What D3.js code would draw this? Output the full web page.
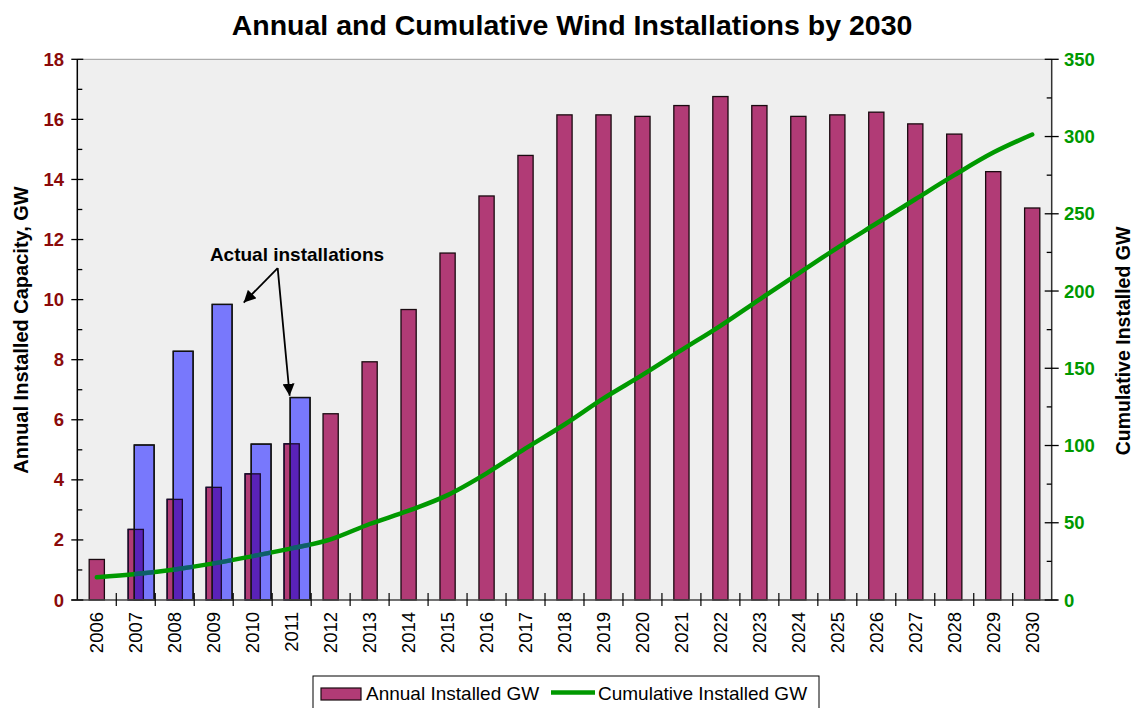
<!DOCTYPE html>
<html><head><meta charset="utf-8">
<script src="https://cdn.jsdelivr.net/npm/d3@7"></script>
<style>
html,body{margin:0;padding:0;background:#fff;}
svg{display:block;font-family:"Liberation Sans",Arial,sans-serif;}
</style></head>
<body><svg id="c" width="1133" height="708"></svg>
<script>
const years = ["2006","2007","2008","2009","2010","2011","2012","2013","2014","2015","2016","2017","2018","2019","2020","2021","2022","2023","2024","2025","2026","2027","2028","2029","2030"];
const annualGW = [1.35,2.35,3.35,3.75,4.2,5.2,6.2,7.93,9.67,11.55,13.45,14.8,16.15,16.15,16.1,16.46,16.76,16.46,16.1,16.15,16.24,15.85,15.51,14.26,13.05];
const cumulativeGW = [14.7,16.8,19.8,23.7,28.4,33.4,39.3,49.2,57.8,67.9,82,98.1,113.6,130.5,145.7,161.7,177.5,194.5,211.3,228,243.7,259.4,275,289.6,301.3];
const actualYears = ["2007","2008","2009","2010","2011"];
const actualGW = [5.16,8.28,9.84,5.19,6.74];
const leftTicks = [0,2,4,6,8,10,12,14,16,18];
const rightTicks = [0,50,100,150,200,250,300,350];

const svg = d3.select("#c");
const defs = svg.append("defs");
const L = 77.3, R = 1051.7, T = 59.3, B = 600;
const x = d3.scaleBand().domain(years).range([L, R]);
const yL = d3.scaleLinear().domain([0, 18]).range([B, T]);
const yR = d3.scaleLinear().domain([0, 350]).range([B, T]);
const bw = x.bandwidth();
const magW = bw * 0.39;
const blueW = bw * 0.51;

// plot background
svg.append("rect").attr("x", L).attr("y", T).attr("width", R - L).attr("height", B - T).attr("fill", "#efefef");
svg.append("line").attr("x1", L).attr("x2", R).attr("y1", T).attr("y2", T).attr("stroke", "#999").attr("stroke-width", 1);

// title
svg.append("text").attr("x", 572).attr("y", 35).attr("text-anchor", "middle")
  .attr("font-size", 28.5).attr("font-weight", "bold").text("Annual and Cumulative Wind Installations by 2030");

// magenta bars
const magX = d => x(d) + bw / 2 - magW / 2;
svg.append("g").selectAll("rect").data(years).join("rect")
  .attr("x", d => magX(d)).attr("width", magW)
  .attr("y", (d, i) => yL(annualGW[i])).attr("height", (d, i) => B - yL(annualGW[i]))
  .attr("fill", "#b13b76").attr("stroke", "#1a0a10").attr("stroke-width", 1.3);

// blue actual bars
const blueX = d => x(d) + bw / 2 - 1.5;
svg.append("g").selectAll("rect").data(actualYears).join("rect")
  .attr("x", d => blueX(d)).attr("width", blueW)
  .attr("y", (d, i) => yL(actualGW[i])).attr("height", (d, i) => B - yL(actualGW[i]))
  .attr("fill", "#7878fc").attr("stroke", "#111").attr("stroke-width", 1.3);

// overlap regions
const overlap = actualYears.map((d, i) => {
  const j = years.indexOf(d);
  return {d, v: Math.min(annualGW[j], actualGW[i]), x0: blueX(d), x1: magX(d) + magW};
});
svg.append("g").selectAll("rect").data(overlap).join("rect")
  .attr("x", o => o.x0).attr("width", o => o.x1 - o.x0)
  .attr("y", o => yL(o.v)).attr("height", o => B - yL(o.v))
  .attr("fill", "#5a22b8");
// re-stroke outlines
svg.append("g").selectAll("rect").data(actualYears).join("rect")
  .attr("x", d => magX(d)).attr("width", magW)
  .attr("y", d => yL(annualGW[years.indexOf(d)])).attr("height", d => B - yL(annualGW[years.indexOf(d)]))
  .attr("fill", "none").attr("stroke", "#1a0a30").attr("stroke-width", 1.3);
svg.append("g").selectAll("rect").data(actualYears).join("rect")
  .attr("x", d => blueX(d)).attr("width", blueW)
  .attr("y", (d, i) => yL(actualGW[i])).attr("height", (d, i) => B - yL(actualGW[i]))
  .attr("fill", "none").attr("stroke", "#111").attr("stroke-width", 1.3);

// cumulative line
const line = d3.line().x((d, i) => x(years[i]) + bw / 2).y(d => yR(d)).curve(d3.curveMonotoneX);
svg.append("path").datum(cumulativeGW).attr("d", line).attr("fill", "none")
  .attr("stroke", "#009900").attr("stroke-width", 4.5).attr("stroke-linecap", "round");
// line segment under blue bars appears darker
const mask = defs.append("mask").attr("id", "linemask");
mask.append("path").datum(cumulativeGW).attr("d", line).attr("fill", "none").attr("stroke", "#fff").attr("stroke-width", 4.5);
svg.append("g").selectAll("rect").data(actualYears).join("rect")
  .attr("x", d => blueX(d)).attr("width", blueW)
  .attr("y", (d, i) => yL(actualGW[i])).attr("height", (d, i) => B - yL(actualGW[i]))
  .attr("fill", "#1a30c0").attr("fill-opacity", 0.55).attr("mask", "url(#linemask)");

// axes lines
svg.append("line").attr("x1", L).attr("x2", L).attr("y1", T).attr("y2", B).attr("stroke", "#000").attr("stroke-width", 1.5);
svg.append("line").attr("x1", R).attr("x2", R).attr("y1", T).attr("y2", B).attr("stroke", "#333").attr("stroke-width", 1.5);
svg.append("line").attr("x1", L - 6).attr("x2", R + 6).attr("y1", B).attr("y2", B).attr("stroke", "#444").attr("stroke-width", 1.5);

// left ticks
const gL = svg.append("g");
gL.selectAll("line.maj").data(leftTicks).join("line").attr("class", "maj")
  .attr("x1", L - 6).attr("x2", L + 6).attr("y1", d => yL(d)).attr("y2", d => yL(d)).attr("stroke", "#000").attr("stroke-width", 1.3);
gL.selectAll("line.min").data(leftTicks.slice(0, -1)).join("line").attr("class", "min")
  .attr("x1", L).attr("x2", L + 5).attr("y1", d => yL(d + 1)).attr("y2", d => yL(d + 1)).attr("stroke", "#000").attr("stroke-width", 1.3);
gL.selectAll("text").data(leftTicks).join("text")
  .attr("x", 64).attr("y", d => yL(d) + 6.5).attr("text-anchor", "end")
  .attr("font-size", 18.5).attr("font-weight", "bold").attr("fill", "#8b0a0a").text(d => d);

// right ticks
const gR = svg.append("g");
gR.selectAll("line.maj").data(rightTicks).join("line").attr("class", "maj")
  .attr("x1", R - 7).attr("x2", R + 7).attr("y1", d => yR(d)).attr("y2", d => yR(d)).attr("stroke", "#000").attr("stroke-width", 1.3);
gR.selectAll("line.min").data(rightTicks.slice(0, -1)).join("line").attr("class", "min")
  .attr("x1", R - 5).attr("x2", R).attr("y1", d => yR(d + 25)).attr("y2", d => yR(d + 25)).attr("stroke", "#000").attr("stroke-width", 1.3);
gR.selectAll("text").data(rightTicks).join("text")
  .attr("x", 1064).attr("y", d => yR(d) + 6.5).attr("text-anchor", "start")
  .attr("font-size", 18.5).attr("font-weight", "bold").attr("fill", "#009900").text(d => d);

// x ticks between categories
const bounds = years.slice(1).map(d => x(d));
svg.append("g").selectAll("line").data(bounds).join("line")
  .attr("x1", d => d).attr("x2", d => d).attr("y1", B - 7).attr("y2", B + 6).attr("stroke", "#000").attr("stroke-width", 1.2);
svg.append("g").selectAll("text").data(years).join("text")
  .attr("transform", d => `translate(${x(d) + bw / 2 + 6.5},612) rotate(-90)`)
  .attr("text-anchor", "end").attr("font-size", 18.5).attr("fill", "#000").text(d => d);

// axis titles
svg.append("text").attr("transform", "translate(28,330) rotate(-90)").attr("text-anchor", "middle")
  .attr("font-size", 20).attr("font-weight", "bold").text("Annual Installed Capacity, GW");
svg.append("text").attr("transform", "translate(1129.5,341) rotate(-90)").attr("text-anchor", "middle")
  .attr("font-size", 19.5).attr("font-weight", "bold").text("Cumulative Installed GW");

// annotation
const ax = x("2010") + bw / 2 + 25, ay = yL(11.05);
svg.append("text").attr("x", 297).attr("y", 261).attr("text-anchor", "middle")
  .attr("font-size", 19).attr("font-weight", "bold").text("Actual installations");
defs.append("marker").attr("id", "arr").attr("viewBox", "0 0 10 10").attr("refX", 10).attr("refY", 5)
  .attr("markerWidth", 12).attr("markerHeight", 12).attr("markerUnits", "userSpaceOnUse").attr("orient", "auto")
  .append("path").attr("d", "M0,0 L10,5 L0,10 z").attr("fill", "#000");
const t1 = [x("2009") + bw / 2 + 30, yL(9.9)];
const t2 = [x("2011") + bw / 2 - 2, yL(6.8)];
[t1, t2].forEach(t => {
  svg.append("line").attr("x1", ax).attr("y1", ay).attr("x2", t[0]).attr("y2", t[1])
    .attr("stroke", "#000").attr("stroke-width", 1.8).attr("marker-end", "url(#arr)");
});

// legend
svg.append("rect").attr("x", 313).attr("y", 676).attr("width", 506).attr("height", 40).attr("fill", "#fff").attr("stroke", "#000").attr("stroke-width", 1);
svg.append("rect").attr("x", 321).attr("y", 688).attr("width", 40).attr("height", 12).attr("fill", "#b13b76").attr("stroke", "#1a0a10").attr("stroke-width", 1.2);
svg.append("text").attr("x", 366).attr("y", 699.5).attr("font-size", 19).text("Annual Installed GW");
svg.append("line").attr("x1", 551).attr("x2", 595).attr("y1", 692.5).attr("y2", 692.5).attr("stroke", "#009900").attr("stroke-width", 4.5);
svg.append("text").attr("x", 598).attr("y", 699.5).attr("font-size", 19).text("Cumulative Installed GW");
</script></body></html>
